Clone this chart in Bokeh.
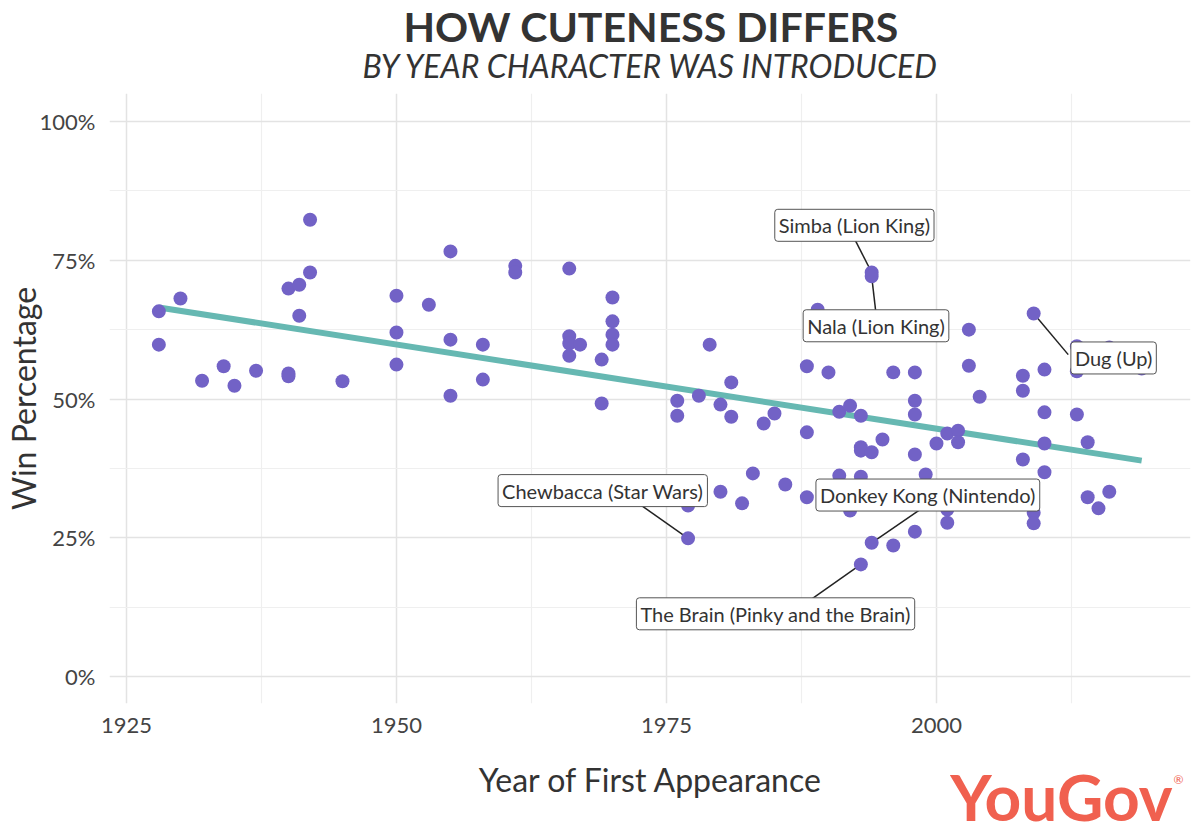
from bokeh.plotting import figure
from bokeh.models import Label, FixedTicker, Range1d
from bokeh.layouts import column
from bokeh.embed import file_html
from bokeh.resources import INLINE

# ---------------- data ----------------
years = [1928, 1928, 1930, 1932, 1934, 1935, 1937,
         1940, 1940, 1940, 1941, 1941, 1942, 1942, 1945,
         1950, 1950, 1950, 1953, 1955, 1955, 1955, 1958, 1958,
         1961, 1961, 1966, 1966, 1966, 1966, 1967, 1969, 1969,
         1970, 1970, 1970, 1970,
         1976, 1976, 1977, 1977, 1978, 1979, 1980, 1980, 1981, 1981,
         1982, 1983, 1984, 1985, 1986, 1988, 1988, 1988, 1989, 1990,
         1991, 1991, 1992, 1992, 1993, 1993, 1993, 1993, 1993,
         1994, 1994, 1994, 1994, 1995, 1996, 1996,
         1998, 1998, 1998, 1998, 1998, 1999, 2000, 2001, 2001, 2001,
         2002, 2002, 2003, 2003, 2004, 2008, 2008, 2008,
         2009, 2009, 2009, 2010, 2010, 2010, 2010,
         2013, 2013, 2013, 2014, 2014, 2015, 2016, 2016, 2019]
win_pct = [65.8, 59.8, 68.1, 53.3, 55.9, 52.4, 55.1,
           69.9, 54.6, 54.1, 70.6, 65.0, 82.3, 72.8, 53.2,
           68.6, 62.0, 56.2, 67.0, 76.6, 60.7, 50.6, 59.8, 53.5,
           74.0, 72.8, 73.5, 61.3, 60.0, 57.8, 59.8, 57.1, 49.2,
           68.3, 64.0, 61.6, 59.8,
           49.7, 47.0, 30.8, 24.9, 50.6, 59.8, 49.0, 33.3, 53.0, 46.8,
           31.2, 36.6, 45.6, 47.4, 34.6, 55.9, 44.0, 32.3, 66.1, 54.8,
           47.7, 36.2, 48.8, 29.9, 47.0, 41.3, 40.7, 36.0, 20.2,
           72.8, 72.1, 40.4, 24.1, 42.7, 54.8, 23.6,
           54.8, 49.7, 47.2, 40.0, 26.1, 36.4, 42.0, 43.8, 30.1, 27.7,
           44.3, 42.2, 62.5, 56.0, 50.4, 54.2, 51.5, 39.1,
           65.4, 29.5, 27.6, 55.3, 47.6, 42.0, 36.8,
           59.5, 55.0, 47.2, 42.2, 32.3, 30.3, 59.3, 33.3, 55.5]

# linear trend
trend_years = [1928, 2019]
trend_pct = [66.5, 38.9]

# annotated characters
ann_text = ["Simba (Lion King)", "Nala (Lion King)", "Dug (Up)",
            "Chewbacca (Star Wars)", "Donkey Kong (Nintendo)",
            "The Brain (Pinky and the Brain)"]
ann_year = [1994, 1994, 2009, 1977, 1994, 1993]
ann_pct = [72.8, 72.1, 65.4, 24.9, 24.1, 20.2]
ann_label_year = [1992.4, 1994.4, 2016.4, 1969.1, 1999.2, 1985.1]
ann_label_pct = [81.3, 63.2, 57.4, 33.5, 32.7, 11.3]
ann_end_year = [1992.4, 1994.4, 2012.2, 1972.4, 1998.8, 1988.4]
ann_end_pct = [78.9, 65.4, 58.0, 31.2, 30.5, 13.9]

x_ticks = [1925, 1950, 1975, 2000]
x_minor = [1937.5, 1962.5, 1987.5, 2012.5]
y_ticks = [0, 25, 50, 75, 100]
y_minor = [12.5, 37.5, 62.5, 87.5]
y_tick_labels = {0: "0%", 25: "25%", 50: "50%", 75: "75%", 100: "100%"}

title = "HOW CUTENESS DIFFERS"
subtitle = "BY YEAR CHARACTER WAS INTRODUCED"
x_title = "Year of First Appearance"
y_title = "Win Percentage"
brand = "YouGov"

# ---------------- style ----------------
FONT = "Lato"
PURPLE = "#7262C6"
TEAL = "#66B8B2"
TXT = "#333333"
LOGO = "#F0604F"
W = 1200
BL, BR = 108, 10          # frame borders shared by all stacked figures


def blank(h):
    # pixel-space strip; data units equal pixels (x from canvas left, y from strip top)
    f = figure(width=W, height=h, output_backend="svg", toolbar_location=None,
               x_range=Range1d(BL, W - BR), y_range=Range1d(h, 0),
               x_axis_type=None, y_axis_type=None,
               min_border_left=BL, min_border_right=BR,
               min_border_top=0, min_border_bottom=0)
    f.grid.visible = False
    f.outline_line_color = None
    return f


# ---- title strip ----
HT = 90
top = blank(HT)
top.add_layout(Label(x=650, y=26, text=title, text_align="center",
                     text_baseline="middle", text_font=FONT,
                     text_font_size="41px", text_font_style="bold",
                     text_color=TXT))
top.add_layout(Label(x=650, y=65, text=subtitle, text_align="center",
                     text_baseline="middle", text_font=FONT,
                     text_font_size="32px", text_font_style="italic",
                     text_color=TXT))

# ---- main chart ----
HM = 655
p = figure(width=W, height=HM, output_backend="svg", toolbar_location=None,
           x_range=Range1d(1923.43, 2023.52), y_range=Range1d(-4.86, 105.05),
           min_border_left=BL, min_border_right=BR, min_border_top=3,
           min_border_bottom=42)
p.outline_line_color = None

p.xaxis.ticker = FixedTicker(ticks=x_ticks, minor_ticks=x_minor)
p.yaxis.ticker = FixedTicker(ticks=y_ticks, minor_ticks=y_minor)
p.yaxis.major_label_overrides = y_tick_labels

for ax in (p.xaxis, p.yaxis):
    ax.axis_line_color = None
    ax.major_tick_line_color = None
    ax.minor_tick_line_color = None
    ax.major_label_text_font = FONT
    ax.major_label_text_font_size = "22px"
    ax.major_label_text_color = "#444444"
    ax.major_label_standoff = 8
    ax.axis_label_text_font = FONT
    ax.axis_label_text_font_size = "32px"
    ax.axis_label_text_font_style = "normal"
    ax.axis_label_text_color = TXT

p.yaxis.axis_label = y_title
p.yaxis.axis_label_standoff = -6

for g in (p.xgrid, p.ygrid):
    g.grid_line_color = "#E3E3E3"
    g.grid_line_width = 1.5
    g.minor_grid_line_color = "#EFEFEF"
    g.minor_grid_line_width = 1.2

p.segment(x0=ann_year, y0=ann_pct, x1=ann_end_year, y1=ann_end_pct,
          line_color="#222222", line_width=1.5)
p.line(trend_years, trend_pct, line_color=TEAL, line_width=6)
p.scatter(years, win_pct, size=14, fill_color=PURPLE, line_color=PURPLE,
          line_width=0)

for t, lx, ly in zip(ann_text, ann_label_year, ann_label_pct):
    p.add_layout(Label(x=lx, y=ly, text=t, text_align="center",
                       text_baseline="middle", text_font=FONT,
                       text_font_size="20px", text_color=TXT,
                       background_fill_color="white",
                       border_line_color="#555555", border_line_width=1,
                       padding=4, border_radius=3))

# ---- footer: x title and logo ----
HB = 840 - HT - HM
bot = blank(HB)
bot.add_layout(Label(x=650, y=34, text=x_title, text_align="center",
                     text_baseline="middle", text_font=FONT,
                     text_font_size="32px", text_color=TXT))
bot.add_layout(Label(x=1172, y=51, text=brand, text_align="right",
                     text_baseline="middle", text_font=FONT,
                     text_font_size="64px", text_font_style="bold",
                     text_color=LOGO))
bot.add_layout(Label(x=1178, y=34, text="®", text_align="center",
                     text_baseline="middle", text_font=FONT,
                     text_font_size="12px", text_color=LOGO))

layout = column(top, p, bot, spacing=0)
open("out.html", "w").write(file_html(layout, INLINE))
